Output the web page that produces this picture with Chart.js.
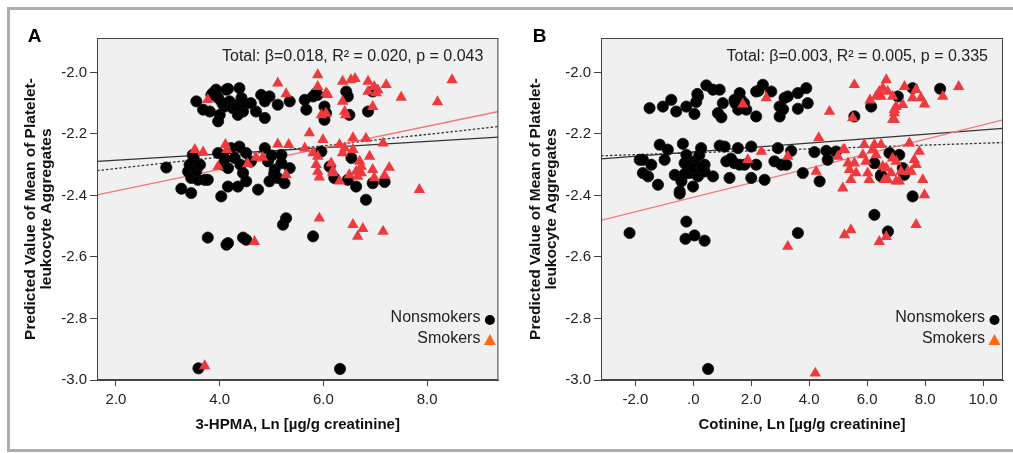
<!DOCTYPE html>
<html>
<head>
<meta charset="utf-8">
<script src="https://cdn.jsdelivr.net/npm/chart.js@4.4.1/dist/chart.umd.min.js"></script>
<style>
  body { margin: 0; background: #fff; }
  #wrap { position: relative; width: 1013px; height: 453px; overflow: hidden; }
  #frame { position: absolute; left: 7px; top: 7px; width: 1100px; height: 445px; box-sizing: border-box; border: 3px solid #adadad; }
  canvas { position: absolute; top: 0; }
  #chartA { left: 0; }
  #chartB { left: 505px; }
</style>
</head>
<body>
<div id="wrap">
  <div id="frame"></div>
  <canvas id="chartA" width="505" height="453"></canvas>
  <canvas id="chartB" width="508" height="453"></canvas>
</div>
<script>
// y axis is shared by both panels
const yTicks = [-3.0, -2.8, -2.6, -2.4, -2.2, -2.0];
const yRange = [-3.0, -1.888];

// Panel A: 3-HPMA
const xTicksA = [2, 4, 6, 8];
const xRangeA = [1.634, 9.374];
const nonsmokersA = [
  [3.55,-2.094],[3.68,-2.121],[3.81,-2.127],[3.84,-2.073],[3.93,-2.056],[3.97,-2.083],[4.00,-2.138],[3.97,-2.159],
  [4.09,-2.111],[4.16,-2.053],[4.19,-2.094],[4.25,-2.116],[4.35,-2.105],[4.38,-2.051],[4.42,-2.083],[4.45,-2.127],
  [4.35,-2.138],[4.48,-2.100],[4.70,-2.127],[4.80,-2.073],[4.87,-2.094],[4.87,-2.148],[4.96,-2.078],[5.12,-2.105],
  [5.35,-2.094],[5.64,-2.089],[5.67,-2.121],[5.80,-2.078],[5.89,-2.073],[6.02,-2.111],[6.02,-2.154],[6.05,-2.132],
  [6.44,-2.062],[6.47,-2.078],[6.50,-2.138],[6.86,-2.127],[6.95,-2.062],[3.87,-2.067],[4.13,-2.056],[4.32,-2.110],
  [4.05,-2.100],[4.60,-2.100],[5.86,-2.067],
  [2.97,-2.309],[3.26,-2.378],[3.45,-2.392],[3.39,-2.322],[3.42,-2.300],[3.48,-2.268],[3.45,-2.343],[3.58,-2.349],
  [3.71,-2.349],[3.77,-2.349],[3.97,-2.262],[4.03,-2.403],[4.06,-2.300],[4.16,-2.311],[4.16,-2.371],[4.22,-2.246],
  [4.29,-2.278],[4.35,-2.371],[4.38,-2.241],[4.45,-2.327],[4.51,-2.354],[4.51,-2.262],[4.74,-2.381],[4.87,-2.246],
  [4.93,-2.289],[4.96,-2.354],[5.06,-2.316],[5.12,-2.343],[5.19,-2.295],[5.25,-2.360],[5.35,-2.311],[5.19,-2.268],
  [5.96,-2.257],[6.54,-2.278],[6.12,-2.306],[6.21,-2.343],[6.47,-2.349],[6.63,-2.371],[6.95,-2.360],[7.18,-2.356],
  [6.82,-2.414],[3.55,-2.320],[3.62,-2.300],[4.10,-2.280],[4.40,-2.300],[4.60,-2.290],[5.00,-2.270],[5.05,-2.330],
  [3.50,-2.280],
  [3.77,-2.537],[4.13,-2.560],[4.16,-2.555],[4.45,-2.537],[4.51,-2.544],[5.22,-2.495],[5.28,-2.474],[5.80,-2.533],
  [3.59,-2.962],[6.32,-2.964]
];
const smokersA = [
  [3.77,-2.089],[5.12,-2.035],[5.28,-2.070],[5.89,-2.008],[5.89,-2.046],[6.05,-2.067],[6.08,-2.072],[5.96,-2.138],
  [6.05,-2.133],[6.37,-2.029],[6.53,-2.024],[6.61,-2.020],[6.37,-2.094],[6.41,-2.127],[6.43,-2.138],[6.86,-2.029],
  [6.86,-2.062],[6.98,-2.046],[7.05,-2.057],[7.02,-2.067],[7.21,-2.040],[6.95,-2.111],[7.50,-2.081],[8.20,-2.096],
  [8.48,-2.024],
  [3.52,-2.251],[3.68,-2.259],[4.11,-2.235],[4.14,-2.251],[3.97,-2.306],[4.54,-2.297],[4.70,-2.276],[4.83,-2.276],
  [5.12,-2.233],[5.33,-2.235],[5.28,-2.333],[5.73,-2.197],[5.99,-2.219],[6.57,-2.213],[6.82,-2.215],[7.15,-2.230],
  [5.64,-2.246],[5.80,-2.262],[5.89,-2.273],[6.31,-2.235],[6.37,-2.262],[6.41,-2.246],[6.57,-2.251],[6.89,-2.273],
  [6.70,-2.289],[6.73,-2.306],[5.86,-2.300],[5.89,-2.322],[5.92,-2.341],[6.15,-2.295],[6.18,-2.320],[6.18,-2.327],
  [6.31,-2.354],[6.50,-2.333],[6.63,-2.322],[6.66,-2.338],[6.73,-2.327],[6.95,-2.316],[6.98,-2.343],[7.18,-2.335],
  [7.27,-2.309],[7.85,-2.381],
  [5.92,-2.474],[6.57,-2.495],[6.66,-2.533],[6.76,-2.508],[7.15,-2.517],[4.67,-2.550],[3.71,-2.954]
];
// fitted lines, y at left and right edge of the plot
const fitTotalA = [-2.289, -2.210];
const fitDottedA = [-2.319, -2.176];
const fitSmokersA = [-2.398, -2.127];

// Panel B: cotinine
const xTicksB = [-2, 0, 2, 4, 6, 8, 10];
const xRangeB = [-3.186, 10.69];
const nonsmokersB = [
  [-1.51,-2.116],[-1.05,-2.111],[-0.76,-2.089],[-0.59,-2.127],[-0.24,-2.111],[0.04,-2.135],[0.10,-2.096],[0.16,-2.078],
  [0.14,-2.070],[0.45,-2.042],[0.68,-2.056],[0.91,-2.056],[0.85,-2.132],[0.97,-2.146],[1.02,-2.100],[1.42,-2.089],
  [1.60,-2.067],[1.55,-2.121],[1.83,-2.121],[2.17,-2.062],[2.17,-2.143],[2.40,-2.040],[2.69,-2.062],[2.98,-2.111],
  [2.98,-2.143],[3.15,-2.083],[3.26,-2.078],[3.61,-2.067],[3.61,-2.118],[3.90,-2.051],[3.95,-2.100],[6.14,-2.111],
  [5.56,-2.143],[7.57,-2.051],[8.52,-2.053],[7.06,-2.078],[1.65,-2.090],[1.75,-2.100],[1.45,-2.100],[2.25,-2.060],
  [3.10,-2.120],
  [-1.85,-2.284],[-1.74,-2.284],[-1.74,-2.327],[-1.56,-2.338],[-1.45,-2.300],[-1.22,-2.365],[-1.16,-2.235],[-0.99,-2.284],
  [-0.88,-2.251],[-0.64,-2.333],[-0.47,-2.387],[-0.47,-2.394],[-0.36,-2.232],[-0.41,-2.354],[-0.30,-2.295],[-0.24,-2.268],
  [-0.18,-2.311],[-0.13,-2.327],[-0.01,-2.371],[0.04,-2.289],[0.16,-2.338],[0.21,-2.268],[0.27,-2.246],[0.39,-2.300],
  [0.39,-2.322],[0.68,-2.338],[0.91,-2.238],[1.08,-2.241],[1.14,-2.289],[1.25,-2.343],[1.42,-2.295],[1.54,-2.246],
  [1.77,-2.300],[2.00,-2.241],[2.00,-2.343],[2.17,-2.300],[2.46,-2.349],[2.80,-2.289],[2.92,-2.246],[3.04,-2.300],
  [3.21,-2.300],[3.38,-2.255],[3.78,-2.327],[4.18,-2.259],[4.36,-2.354],[4.59,-2.255],[4.64,-2.284],[4.93,-2.257],
  [6.25,-2.295],[6.48,-2.333],[6.77,-2.262],[7.11,-2.268],[7.23,-2.311],[7.28,-2.333],[6.48,-2.338],[7.57,-2.403],
  [-0.20,-2.300],[0.00,-2.310],[-0.30,-2.330],[0.30,-2.310],[1.30,-2.280],[1.60,-2.300],
  [-2.20,-2.522],[-0.24,-2.485],[-0.27,-2.541],[0.04,-2.530],[0.39,-2.547],[3.61,-2.522],[6.25,-2.463],[6.72,-2.517],
  [0.51,-2.964]
];
const smokersB = [
  [1.71,-2.103],[2.52,-2.083],[4.70,-2.127],[5.56,-2.040],[5.50,-2.148],[6.31,-2.078],[6.42,-2.062],[6.66,-2.024],
  [6.71,-2.062],[6.48,-2.078],[6.88,-2.078],[6.94,-2.121],[6.88,-2.154],[7.29,-2.046],[7.69,-2.056],[7.86,-2.083],
  [7.98,-2.103],[7.00,-2.111],[6.94,-2.132],[6.94,-2.154],[7.23,-2.105],[7.57,-2.083],[8.61,-2.078],[9.16,-2.046],
  [6.54,-2.051],[6.10,-2.090],
  [1.88,-2.284],[2.35,-2.257],[4.33,-2.213],[3.26,-2.273],[4.24,-2.322],[5.16,-2.376],[5.22,-2.251],[5.34,-2.295],
  [5.39,-2.316],[5.44,-2.349],[5.56,-2.295],[5.62,-2.327],[5.85,-2.268],[5.90,-2.235],[5.96,-2.289],[6.02,-2.327],
  [6.07,-2.349],[6.19,-2.251],[6.25,-2.235],[6.31,-2.268],[6.48,-2.235],[6.54,-2.306],[6.60,-2.349],[6.71,-2.349],
  [6.83,-2.327],[6.88,-2.279],[7.00,-2.354],[7.46,-2.230],[7.80,-2.257],[7.63,-2.284],[7.69,-2.300],[7.52,-2.322],
  [7.00,-2.289],[6.66,-2.311],[7.11,-2.354],[7.17,-2.322],[7.40,-2.322],[7.92,-2.349],[7.98,-2.398],[4.99,-2.273],
  [5.17,-2.252],
  [3.26,-2.566],[5.22,-2.528],[5.44,-2.512],[6.42,-2.550],[6.66,-2.534],[7.69,-2.495],[4.21,-2.978]
];
const fitTotalB = [-2.281, -2.182];
const fitDottedB = [-2.271, -2.228];
const fitSmokersB = [-2.481, -2.154];

const FONT = "'Liberation Sans', Arial, Helvetica, sans-serif";
const AXIS = "#444";

function tickLabel(v) {
  if (v === 0) return ".0";
  return v.toFixed(1);
}

// background, frame, panel letter, stats note and legend
const panelDecor = {
  id: "panelDecor",
  beforeDraw(chart, args, opts) {
    const { ctx, chartArea: a } = chart;
    ctx.save();
    ctx.fillStyle = "#f0f0f0";
    ctx.fillRect(a.left, a.top, a.right - a.left, a.bottom - a.top);
    ctx.restore();
  },
  afterDraw(chart, args, opts) {
    const { ctx, chartArea: a } = chart;
    ctx.save();
    ctx.strokeStyle = AXIS;
    ctx.lineWidth = 1;
    ctx.strokeRect(a.left + 0.5, a.top + 0.5, a.right - a.left - 1, a.bottom - a.top - 1);

    ctx.fillStyle = "#000";
    ctx.font = "bold 19px " + FONT;
    ctx.textAlign = "center";
    ctx.textBaseline = "middle";
    ctx.fillText(opts.letter, 34.5, 37);

    ctx.fillStyle = "#222";
    ctx.font = "16px " + FONT;
    ctx.textAlign = "right";
    ctx.fillText(opts.note, a.right - 15, 57);

    ctx.fillText("Nonsmokers", a.right - 18, 318);
    ctx.fillText("Smokers", a.right - 18, 339);
    ctx.fillStyle = "#000";
    ctx.beginPath();
    ctx.arc(a.right - 8.5, 320, 5, 0, Math.PI * 2);
    ctx.fill();
    ctx.fillStyle = "#ff6a10";
    ctx.beginPath();
    ctx.moveTo(a.right - 8.5, 334);
    ctx.lineTo(a.right - 2.5, 345);
    ctx.lineTo(a.right - 14.5, 345);
    ctx.closePath();
    ctx.fill();
    ctx.restore();
  }
};

function makePanel(id, cfg) {
  const ctx = document.getElementById(id).getContext("2d");
  const toPts = (arr) => arr.map((p) => ({ x: p[0], y: p[1] }));
  const fit = (ys, dash, color) => ({
    type: "line",
    data: [{ x: cfg.xRange[0], y: ys[0] }, { x: cfg.xRange[1], y: ys[1] }],
    borderColor: color,
    borderWidth: 1.3,
    borderDash: dash,
    pointRadius: 0,
    fill: false
  });

  new Chart(ctx, {
    type: "scatter",
    data: {
      datasets: [
        {
          label: "Smokers",
          data: toPts(cfg.smokers),
          pointStyle: "triangle",
          pointRadius: 6.6,
          backgroundColor: "#ee3a3e",
          borderColor: "#ee3a3e",
          borderWidth: 0
        },
        {
          label: "Nonsmokers",
          data: toPts(cfg.nonsmokers),
          pointStyle: "circle",
          pointRadius: 5.6,
          backgroundColor: "#000",
          borderColor: "#111",
          borderWidth: 0.8
        },
        fit(cfg.fitSmokers, [], "#f07878"),
        fit(cfg.fitDotted, [2.5, 2], "#333"),
        fit(cfg.fitTotal, [], "#333")
      ]
    },
    options: {
      responsive: false,
      animation: false,
      events: [],
      layout: { padding: { top: 38, right: cfg.padRight, left: 0, bottom: 0 } },
      plugins: {
        legend: { display: false },
        tooltip: { enabled: false },
        panelDecor: { letter: cfg.letter, note: cfg.note }
      },
      scales: {
        x: {
          type: "linear",
          min: cfg.xRange[0],
          max: cfg.xRange[1],
          afterBuildTicks: (s) => { s.ticks = cfg.xTicks.map((v) => ({ value: v })); },
          afterFit: (s) => { s.height = 73; },
          ticks: { callback: tickLabel, font: { family: FONT, size: 15 }, color: "#222", padding: 5, maxRotation: 0, autoSkip: false },
          grid: { drawOnChartArea: false, drawTicks: true, tickLength: 6, color: AXIS },
          border: { color: AXIS },
          title: { display: true, text: cfg.xTitle, font: { family: FONT, size: 15, weight: "bold" }, color: "#111", padding: { top: 0, bottom: 19 } }
        },
        y: {
          type: "linear",
          min: yRange[0],
          max: yRange[1],
          afterBuildTicks: (s) => { s.ticks = yTicks.map((v) => ({ value: v })); },
          afterFit: (s) => { s.width = cfg.yWidth; },
          ticks: { callback: tickLabel, font: { family: FONT, size: 15 }, color: "#222", padding: 3 },
          grid: { drawOnChartArea: false, drawTicks: true, tickLength: 7, color: AXIS },
          border: { color: AXIS },
          title: {
            display: true,
            text: ["Predicted Value of Mean of Platelet-", "leukocyte Aggregates"],
            font: { family: FONT, size: 15.5, weight: "bold", lineHeight: 1.03 },
            color: "#111",
            padding: { top: 22.7, bottom: 0 }
          }
        }
      }
    },
    plugins: [panelDecor]
  });
}

makePanel("chartA", {
  letter: "A",
  note: "Total: \u03b2=0.018, R\u00b2 = 0.020, p = 0.043",
  xTitle: "3-HPMA, Ln [\u00b5g/g creatinine]",
  xTicks: xTicksA, xRange: xRangeA,
  nonsmokers: nonsmokersA, smokers: smokersA,
  fitTotal: fitTotalA, fitDotted: fitDottedA, fitSmokers: fitSmokersA,
  padRight: 6, yWidth: 97
});

makePanel("chartB", {
  letter: "B",
  note: "Total: \u03b2=0.003, R\u00b2 = 0.005, p = 0.335",
  xTitle: "Cotinine, Ln [\u00b5g/g creatinine]",
  xTicks: xTicksB, xRange: xRangeB,
  nonsmokers: nonsmokersB, smokers: smokersB,
  fitTotal: fitTotalB, fitDotted: fitDottedB, fitSmokers: fitSmokersB,
  padRight: 10, yWidth: 96
});
</script>
</body>
</html>
